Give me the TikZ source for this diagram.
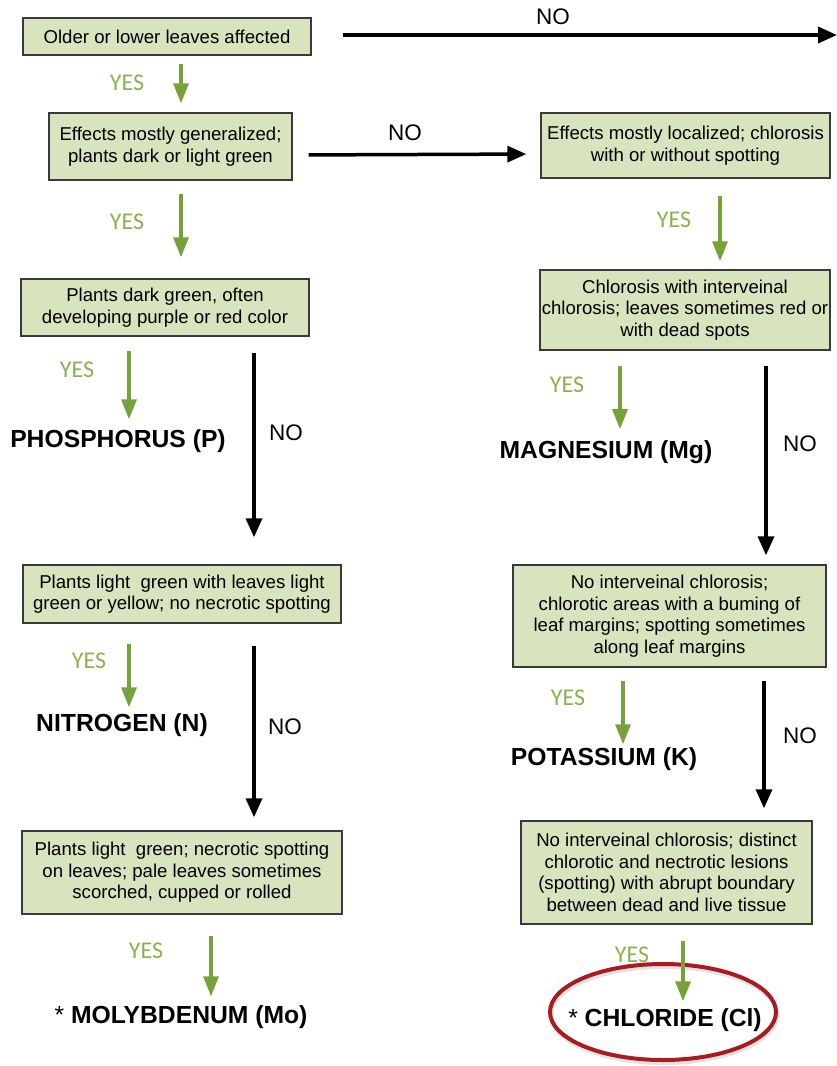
\documentclass[tikz,border=0pt]{standalone}
\usepackage{fontspec}
\setmainfont{Liberation Sans}
\newfontfamily\yesfont{Carlito}
\usetikzlibrary{arrows.meta,shapes.geometric}
\definecolor{boxfill}{HTML}{D7E4BD}
\definecolor{boxline}{HTML}{3A3A3A}
\definecolor{arrgreen}{HTML}{77A13A}
\definecolor{yesgreen}{HTML}{8DB04E}
\definecolor{ringred}{HTML}{AA1B21}
\tikzset{
  qbox/.style={draw=boxline, line width=1.4pt, fill=boxfill, align=center,
    font=\fontsize{18.6}{21.5}\selectfont, inner sep=0pt},
  yeslbl/.style={text=yesgreen, font=\yesfont\fontsize{24}{24}\selectfont, inner sep=0pt},
  nolbl/.style={text=black, font=\fontsize{22.5}{22.5}\selectfont, inner sep=0pt},
  result/.style={font=\bfseries\fontsize{24.7}{25}\selectfont, inner sep=0pt},
  yesarrow/.style={draw=arrgreen, line width=3.3pt, -{Triangle[length=20pt,width=15pt]}},
  noarrow/.style={draw=black, line width=3.5pt, -{Triangle[length=19pt,width=16pt]}},
}
\begin{document}
\begin{tikzpicture}[x=1pt,y=-1pt]
\useasboundingbox (0,0) rectangle (837,1066);
% boxes
\node[qbox, minimum width=288pt, minimum height=37pt] (b1) at (167,36.5) {Older or lower leaves affected};
\node[qbox, minimum width=243pt, minimum height=67pt] (b2) at (170.5,146.5) {Effects mostly generalized;\\plants dark or light green};
\node[qbox, minimum width=289pt, minimum height=65pt] (b3) at (685.5,145.5) {Effects mostly localized; chlorosis\\with or without spotting};
\node[qbox, minimum width=288pt, minimum height=57pt] (b4) at (165,307.5) {Plants dark green, often\\developing purple or red color};
\node[qbox, minimum width=290pt, minimum height=80pt] (b5) at (685,310) {Chlorosis with interveinal\\chlorosis; leaves sometimes red or\\with dead spots};
\node[qbox, minimum width=318pt, minimum height=58pt] (b6) at (182,594) {Plants light\ \ green with leaves light\\green or yellow; no necrotic spotting};
\node[qbox, minimum width=313pt, minimum height=102pt] (b7) at (669.5,616) {No interveinal chlorosis;\\chlorotic areas with a buming of\\leaf margins; spotting sometimes\\along leaf margins};
\node[qbox, minimum width=320pt, minimum height=83pt] (b8) at (182,872.5) {Plants light\ \ green; necrotic spotting\\on leaves; pale leaves sometimes\\scorched, cupped or rolled};
\node[qbox, minimum width=291pt, minimum height=103pt] (b9) at (666.5,872.5) {No interveinal chlorosis; distinct\\chlorotic and nectrotic lesions\\(spotting) with abrupt boundary\\between dead and live tissue};
% results
\node[result] (p) at (118,441) {PHOSPHORUS (P)};
\node[result] (mg) at (606,452) {MAGNESIUM (Mg)};
\node[result] (n) at (122,725) {NITROGEN (N)};
\node[result] (k) at (604,759) {POTASSIUM (K)};
\node[result] (mo) at (181,1017) {{\mdseries *} MOLYBDENUM (Mo)};
\node[result] (cl) at (665,1020) {{\mdseries *} CHLORIDE (Cl)};
% ring around chloride
\draw[black!18, line width=4pt, opacity=0.6] ([xshift=1pt,yshift=-3pt]cl.center) ++(-2,-8) ellipse [x radius=113, y radius=48];
\draw[ringred, line width=4pt] (cl.center) ++(-2,-8) ellipse [x radius=113, y radius=48];
% top NO connector
\coordinate (topend) at (837,35);
\draw[noarrow] ([yshift=1.5pt]b1.east) ++(31,0) -- (topend);
\node[nolbl] (no1) at (553,17) {NO};
% b1 -> b2
\draw[yesarrow, shorten <=8pt, shorten >=9pt] (b1.south -| 181,0) -- (b2.north -| 181,0);
\node[yeslbl] (y1) at (127,83) {YES};
% b2 -> b3
\draw[noarrow, shorten <=16pt, shorten >=14pt] ([yshift=-8.5pt]b2.east) -- ([yshift=-8.5pt]b3.west);
\node[nolbl] (no2) at (405,133) {NO};
% b2 -> b4
\draw[yesarrow, shorten <=13pt, shorten >=21pt] (b2.south -| 181,0) -- (b4.north -| 181,0);
\node[yeslbl] (y2) at (127,222) {YES};
% b3 -> b5
\draw[yesarrow, shorten <=17pt, shorten >=8pt] (b3.south -| 720,0) -- (b5.north -| 720,0);
\node[yeslbl] (y3) at (674,220) {YES};
% b4 -> P, b4 -> b6
\draw[yesarrow, shorten <=14pt, shorten >=10pt] (b4.south -| 129,0) -- (p.north -| 129,0);
\node[yeslbl] (y4) at (77,370) {YES};
\draw[noarrow, shorten <=16pt, shorten >=27pt] (b4.south -| 254,0) -- (b6.north -| 254,0);
\node[nolbl] (no3) at (286,433) {NO};
% b5 -> Mg, b5 -> b7
\draw[yesarrow, shorten <=15pt, shorten >=11pt] (b5.south -| 620,0) -- (mg.north -| 620,0);
\node[yeslbl] (y5) at (567,385) {YES};
\draw[noarrow, shorten <=15pt, shorten >=9pt] (b5.south -| 766,0) -- (b7.north -| 766,0);
\node[nolbl] (no4) at (800,444) {NO};
% b6 -> N, b6 -> b8
\draw[yesarrow, shorten <=20pt, shorten >=6pt] (b6.south -| 129,0) -- (n.north -| 129,0);
\node[yeslbl] (y6) at (89,661) {YES};
\draw[noarrow, shorten <=22pt, shorten >=13pt] (b6.south -| 254,0) -- (b8.north -| 254,0);
\node[nolbl] (no5) at (285,727) {NO};
% b7 -> K, b7 -> b9
\draw[yesarrow, shorten <=13pt, shorten >=3pt] (b7.south -| 623,0) -- (k.north -| 623,0);
\node[yeslbl] (y7) at (568,698) {YES};
\draw[noarrow, shorten <=13pt, shorten >=12pt] (b7.south -| 764,0) -- (b9.north -| 764,0);
\node[nolbl] (no6) at (800,736) {NO};
% b8 -> Mo
\draw[yesarrow, shorten <=21pt, shorten >=9pt] (b8.south -| 211,0) -- (mo.north -| 211,0);
\node[yeslbl] (y8) at (146,951) {YES};
% b9 -> Cl
\draw[yesarrow, shorten <=16pt, shorten >=7pt] (b9.south -| 683,0) -- (cl.north -| 683,0);
\node[yeslbl] (y9) at (632,955) {YES};
\end{tikzpicture}
\end{document}
